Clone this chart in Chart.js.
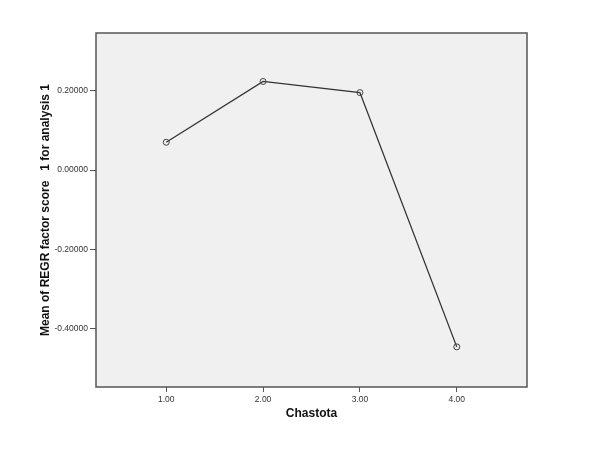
<!DOCTYPE html>
<html>
<head>
<meta charset="utf-8">
<script src="https://cdn.jsdelivr.net/npm/chart.js@4"></script>
<style>
html,body{margin:0;padding:0;background:#fff;}
#wrap{width:607px;height:455px;}
</style>
</head>
<body>
<div id="wrap"><canvas id="c" width="607" height="455"></canvas></div>
<script>
const categories = [1, 2, 3, 4];
const meanScores = [0.070, 0.223, 0.195, -0.445];
const xTickValues = [1, 2, 3, 4];
const yTickValues = [-0.4, -0.2, 0, 0.2];
const xTitle = 'Chastota';
const yTitle = 'Mean of REGR factor score   1 for analysis 1';

const frame = {
  id: 'frame',
  beforeDraw(chart) {
    const {ctx, chartArea: a} = chart;
    ctx.save();
    ctx.fillStyle = '#f0f0f0';
    ctx.fillRect(a.left, a.top, a.right - a.left, a.bottom - a.top);
    ctx.restore();
  },
  afterDraw(chart) {
    const {ctx, chartArea: a} = chart;
    ctx.save();
    ctx.strokeStyle = '#555';
    ctx.lineWidth = 1.5;
    ctx.strokeRect(a.left, a.top, a.right - a.left, a.bottom - a.top);
    ctx.restore();
  }
};

new Chart(document.getElementById('c'), {
  type: 'scatter',
  data: {
    datasets: [{
      data: categories.map((x, i) => ({x: x, y: meanScores[i]})),
      showLine: true,
      borderColor: '#333',
      borderWidth: 1.3,
      pointRadius: 3,
      pointBorderWidth: 1,
      pointBorderColor: '#444',
      pointBackgroundColor: 'rgba(0,0,0,0)',
      tension: 0
    }]
  },
  options: {
    responsive: false,
    animation: false,
    devicePixelRatio: 1,
    layout: {padding: {left: 30, right: 80, top: 33, bottom: 28}},
    plugins: {legend: {display: false}, tooltip: {enabled: false}},
    scales: {
      x: {
        type: 'linear',
        min: 0.275, max: 4.725,
        afterBuildTicks(s) { s.ticks = xTickValues.map(v => ({value: v})); },
        afterFit(s) { s.height = 40; },
        grid: {drawOnChartArea: false, drawTicks: true, tickLength: 5, color: '#555', lineWidth: 1},
        border: {display: false},
        ticks: {
          color: '#333', padding: 3,
          font: {family: 'Liberation Sans, Arial, sans-serif', size: 8.5},
          callback: v => Number(v).toFixed(2)
        },
        title: {display: true, text: xTitle, color: '#111',
          font: {family: 'Liberation Sans, Arial, sans-serif', size: 12, weight: 'bold'},
          padding: {top: 0, bottom: 6}}
      },
      y: {
        type: 'linear',
        min: -0.546, max: 0.345,
        afterBuildTicks(s) { s.ticks = yTickValues.map(v => ({value: v})); },
        afterFit(s) { s.width = 66; },
        grid: {drawOnChartArea: false, drawTicks: true, tickLength: 6, color: '#555', lineWidth: 1},
        border: {display: false},
        ticks: {
          color: '#333', padding: 2,
          font: {family: 'Liberation Sans, Arial, sans-serif', size: 8.5},
          callback: v => Number(v).toFixed(5)
        },
        title: {display: true, text: yTitle, color: '#111',
          font: {family: 'Liberation Sans, Arial, sans-serif', size: 12, weight: 'bold'},
          padding: {top: 8, bottom: 0}}
      }
    }
  },
  plugins: [frame]
});
</script>
</body>
</html>
